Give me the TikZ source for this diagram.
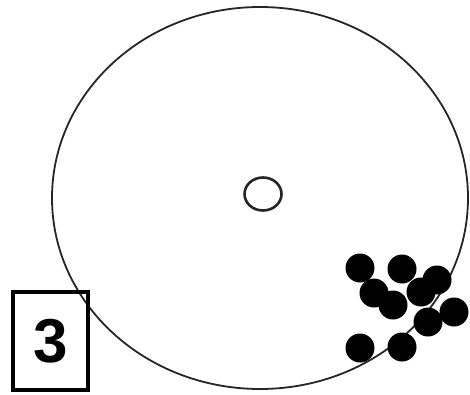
\documentclass[tikz,border=0pt]{standalone}
\usepackage{fontspec}
\setmainfont{Liberation Sans}
\begin{document}
\begin{tikzpicture}[x=1pt,y=-1pt,
  rim/.style={draw=black!85,line width=1.8pt},
  hub/.style={draw=black!85,line width=2.6pt},
  bead/.style={fill=black,draw=none},
  labelbox/.style={draw=black,line width=3.5pt,minimum width=75pt,minimum height=98pt,inner sep=0pt,font=\bfseries\fontsize{62}{62}\selectfont}]
\useasboundingbox (0,0) rectangle (470,395);
\fill[white] (0,0) rectangle (470,395);
\draw[rim] (260,198) ellipse [x radius=208, y radius=191];
\draw[hub] (263,194) ellipse [x radius=18.5, y radius=16.5];
\foreach \px/\py in {360/268, 402/269, 437/280, 374/293, 393/305, 421/292, 454/312, 428/322, 360/348, 402/347}
  \fill[bead] (\px,\py) circle [radius=14.5];
\node[labelbox] (lbl) at (50.5,341) {3};
\end{tikzpicture}
\end{document}
